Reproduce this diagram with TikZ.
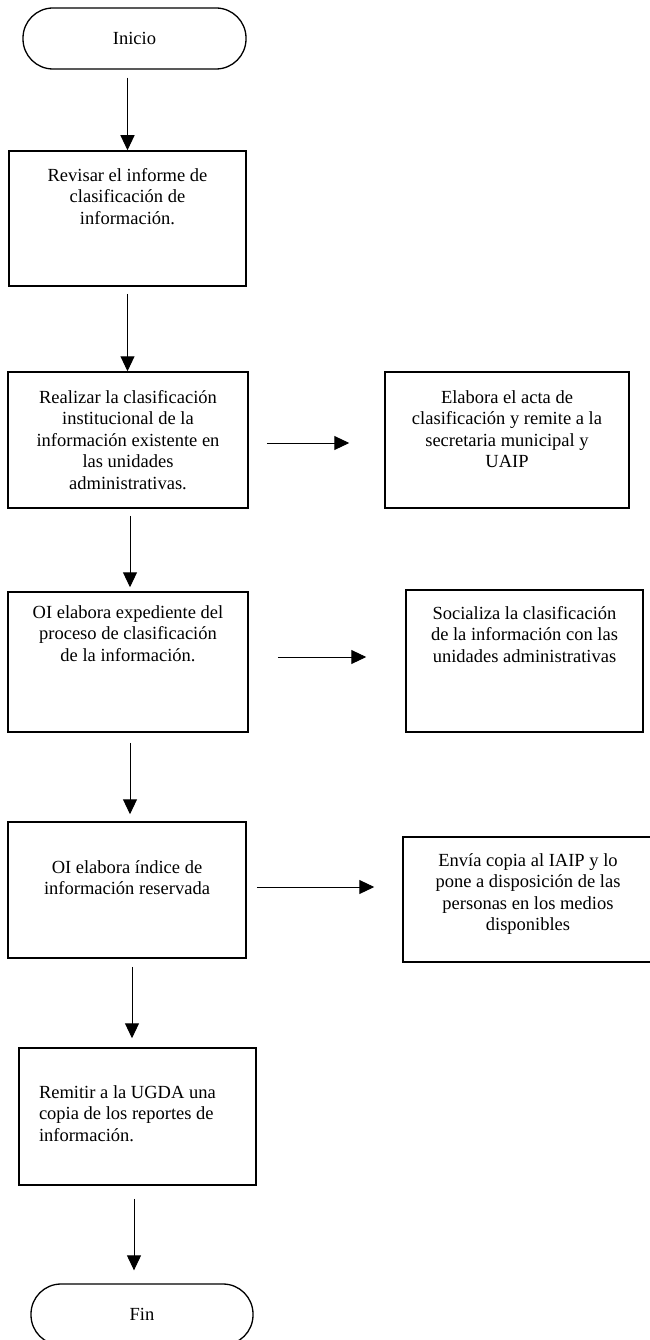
\documentclass[tikz,border=0pt]{standalone}
\usepackage{fontspec}
\setmainfont{Liberation Serif}
\usetikzlibrary{arrows.meta}

\newcommand{\steptext}[3]{\parbox[c][#1pt][t]{220pt}{\centering\vspace*{#2pt}\strut#3}}
\newcommand{\steptextl}[3]{\parbox[c][#1pt][t]{197pt}{\raggedright\vspace*{#2pt}\strut#3}}

\begin{document}
\begin{tikzpicture}[x=1pt, y=-1pt,
    font=\fontsize{18.5pt}{21.5pt}\selectfont,
    term/.style={draw, line width=1.3pt, rounded corners=30pt, minimum width=#1, minimum height=61pt, inner sep=0pt},
    stepbox/.style={draw, line width=1.5pt, inner sep=0pt, minimum width=#1},
    flow/.style={-{Triangle[length=15pt,width=14pt]}, line width=1pt}]
        \useasboundingbox (0,0) rectangle (649,1340);

        % main column
        \node[term=223pt] (inicio) at (134.5, 38.5) {Inicio};
        \node[stepbox=237pt] (rev) at (127.5, 218.5) {\steptext{135}{15}{Revisar el informe de\\clasificación de\\información.}};
        \node[stepbox=240pt] (real) at (128, 440) {\steptext{136}{16}{Realizar la clasificación\\institucional de la\\información existente en\\las unidades\\administrativas.}};
        \node[stepbox=240pt] (expe) at (128, 662) {\steptext{140}{11}{OI elabora expediente del\\proceso de clasificación\\de la información.}};
        \node[stepbox=238pt] (indi) at (127, 890) {\steptext{136}{36}{OI elabora índice de\\información reservada}};
        \node[stepbox=237pt] (remi) at (137.5, 1116.5) {\steptextl{137}{35}{Remitir a la UGDA una\\copia de los reportes de\\información.}};
        \node[term=222pt] (fin) at (142, 1314.5) {Fin};

        % side column
        \node[stepbox=244pt] (elab) at (507, 440) {\steptext{136}{16}{Elabora el acta de\\clasificación y remite a la\\secretaria municipal y\\UAIP}};
        \node[stepbox=237pt] (soci) at (524.5, 661) {\steptext{142}{14}{Socializa la clasificación\\de la información con las\\unidades administrativas}};
        \node[stepbox=250pt] (envi) at (528, 899.5) {\steptext{125}{14}{Envía copia al IAIP y lo\\pone a disposición de las\\personas en los medios\\disponibles}};

        \draw[flow, shorten <=8pt] (inicio.south -| rev.north) -- (rev.north);
        \draw[flow, shorten <=7pt] (rev.south) -- (rev.south |- real.north);
        \draw[flow, shorten <=7pt, shorten >=4pt] ([xshift=2pt]real.south) -- ([xshift=2pt]real.south |- expe.north);
        \draw[flow, shorten <=10pt, shorten >=7pt] ([xshift=2pt]expe.south) -- ([xshift=2pt]expe.south |- indi.north);
        \draw[flow, shorten <=8pt, shorten >=9pt] ([xshift=5pt]indi.south) -- ([xshift=5pt]indi.south |- remi.north);
        \draw[flow, shorten <=13pt, shorten >=13pt] ([xshift=-3.5pt]remi.south) -- ([xshift=-3.5pt]remi.south |- fin.north);

        \draw[flow, shorten <=18pt, shorten >=35pt] ([yshift=-3pt]real.east) -- ([yshift=-3pt]real.east -| elab.west);
        \draw[flow, shorten <=29pt, shorten >=39pt] ([yshift=5pt]expe.east) -- ([yshift=5pt]expe.east -| soci.west);
        \draw[flow, shorten <=10pt, shorten >=28pt] ([yshift=3pt]indi.east) -- ([yshift=3pt]indi.east -| envi.west);

      \end{tikzpicture}
\end{document}
